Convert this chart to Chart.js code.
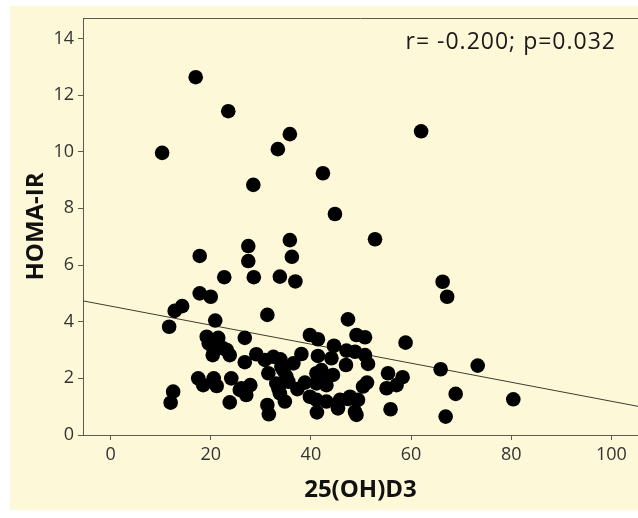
<!DOCTYPE html>
<html>
<head>
<meta charset="utf-8">
<script src="https://cdn.jsdelivr.net/npm/chart.js@4.4.0/dist/chart.umd.min.js"></script>
<style>
  html, body { margin: 0; padding: 0; background: #fff; overflow: hidden; }
</style>
</head>
<body>
<canvas id="graficoHoma" width="638" height="518"></canvas>
<script>
// Datos: 25(OH)D3 vs HOMA-IR
var vitD = [17.0, 23.5, 10.3, 35.8, 33.4, 62.0, 42.4, 28.5, 44.8, 52.8, 66.3, 67.2,
  17.8, 27.5, 27.5, 28.6, 22.7, 33.8, 35.8, 36.2, 36.9, 17.8, 20.0, 14.3, 12.8, 11.7,
  20.9, 31.3, 47.4, 26.8, 19.2, 21.5, 19.6, 20.5, 22.5, 39.8, 41.4, 49.1, 50.8, 58.9,
  44.6, 47.1, 20.4, 23.8, 26.8, 29.1, 30.8, 32.5, 33.9, 34.1, 36.5, 38.1, 41.4, 44.1,
  47.0, 50.8, 51.4, 65.9, 73.3, 48.8, 31.5, 34.5, 35.1, 35.5, 38.8, 37.3, 17.5, 18.5,
  20.6, 21.2, 24.1, 26.1, 27.9, 33.5, 41.1, 42.1, 42.4, 44.4, 41.1, 43.1, 55.4, 58.3,
  57.1, 55.1, 51.2, 50.4, 33.1, 27.1, 33.8, 34.8, 23.8, 12.5, 12.0, 31.3, 31.6, 39.8,
  41.1, 43.1, 45.4, 41.2, 45.8, 47.4, 49.4, 49.1, 68.9, 80.4, 55.9, 66.9, 47.8, 48.8,
  23.2, 25.8];
var homa = [12.63, 11.43, 9.96, 10.62, 10.09, 10.72, 9.24, 8.83, 7.80, 6.91, 5.41, 4.88,
  6.32, 6.67, 6.14, 5.57, 5.57, 5.59, 6.88, 6.29, 5.42, 5.00, 4.88, 4.55, 4.38, 3.82,
  4.04, 4.24, 4.08, 3.43, 3.47, 3.43, 3.24, 3.06, 3.06, 3.53, 3.38, 3.53, 3.45, 3.26,
  3.15, 2.98, 2.82, 2.82, 2.57, 2.85, 2.65, 2.76, 2.67, 2.41, 2.53, 2.86, 2.79, 2.71,
  2.47, 2.82, 2.51, 2.32, 2.45, 2.94, 2.18, 2.29, 2.06, 1.88, 1.85, 1.62, 2.00, 1.76,
  2.00, 1.73, 2.00, 1.65, 1.76, 1.65, 2.18, 2.29, 2.00, 2.12, 1.82, 1.76, 2.18, 2.04,
  1.76, 1.65, 1.85, 1.71, 1.82, 1.41, 1.47, 1.18, 1.15, 1.53, 1.14, 1.06, 0.73, 1.35,
  1.24, 1.18, 0.94, 0.80, 1.24, 1.27, 1.24, 0.71, 1.45, 1.26, 0.91, 0.65, 1.35, 0.82,
  3.00, 1.59];
var xTicks = [0, 20, 40, 60, 80, 100];
var yTicks = [0, 2, 4, 6, 8, 10, 12, 14];
var xMin = -5.5, xMax = 105.3;
var yMin = 0, yMax = 14.72;
// recta de regresion
var regIntercept = 4.55;
var regSlope = -0.0336;
var textoStats = 'r= -0.200; p=0.032';

var puntos = vitD.map(function (v, i) { return { x: v, y: homa[i] }; });
var recta = [xMin, xMax].map(function (v) { return { x: v, y: regIntercept + regSlope * v }; });

var colorEje = '#5b5b4f';
var fuente = 'Open Sans';

var fondo = {
  id: 'fondo',
  beforeDraw: function (chart) {
    var c = chart.ctx;
    c.save();
    c.fillStyle = '#ffffff';
    c.fillRect(0, 0, chart.width, chart.height);
    c.fillStyle = '#fdf8d8';
    c.fillRect(10, 6, chart.width - 10, 504);
    c.restore();
  },
  afterDraw: function (chart) {
    var c = chart.ctx, a = chart.chartArea;
    c.save();
    c.strokeStyle = colorEje;
    c.lineWidth = 1;
    c.beginPath();
    c.moveTo(a.left, a.top + 0.5);
    c.lineTo(a.right, a.top + 0.5);
    c.stroke();
    c.fillStyle = '#1a1a1a';
    c.font = '23px "' + fuente + '"';
    c.letterSpacing = '1px';
    c.textAlign = 'right';
    c.textBaseline = 'alphabetic';
    c.fillText(textoStats, 616, 49);
    c.restore();
  }
};

var ctx = document.getElementById('graficoHoma').getContext('2d');
var graficoHoma = new Chart(ctx, {
  type: 'scatter',
  data: {
    datasets: [{
      type: 'line',
      data: recta,
      borderColor: '#3d3d30',
      borderWidth: 1,
      pointRadius: 0,
      fill: false,
      order: 2
    }, {
      data: puntos,
      backgroundColor: '#000',
      borderColor: '#000',
      borderWidth: 0,
      pointRadius: 7.3,
      order: 1
    }]
  },
  options: {
    responsive: false,
    animation: false,
    layout: { autoPadding: false, padding: { left: 0, top: 18, right: 0, bottom: 0 } },
    plugins: {
      legend: { display: false },
      tooltip: { enabled: false }
    },
    scales: {
      x: {
        type: 'linear',
        min: xMin,
        max: xMax,
        afterBuildTicks: function (s) { s.ticks = xTicks.map(function (v) { return { value: v }; }); },
        afterFit: function (s) { s.height = 83; s.paddingLeft = 0; s.paddingRight = 0; },
        grid: { drawOnChartArea: false, drawTicks: true, tickLength: 5, color: colorEje },
        border: { color: colorEje, width: 1 },
        ticks: { color: '#333', font: { family: fuente, size: 18 }, padding: 4, maxRotation: 0 },
        title: {
          display: true, text: '25(OH)D3', color: '#111',
          font: { family: fuente, size: 24, weight: 'bold' },
          padding: { top: 0, bottom: 13 }
        }
      },
      y: {
        min: yMin,
        max: yMax,
        afterBuildTicks: function (s) { s.ticks = yTicks.map(function (v) { return { value: v }; }); },
        afterFit: function (s) { s.width = 83; s.paddingTop = 0; s.paddingBottom = 0; },
        grid: { drawOnChartArea: false, drawTicks: true, tickLength: 5, color: colorEje },
        border: { color: colorEje, width: 1 },
        ticks: { color: '#333', font: { family: fuente, size: 18 }, padding: 4 },
        title: {
          display: true, text: 'HOMA-IR', color: '#111',
          font: { family: fuente, size: 24, weight: 'bold' },
          padding: { top: 22, bottom: 0 }
        }
      }
    }
  },
  plugins: [fondo]
});
</script>
</body>
</html>
